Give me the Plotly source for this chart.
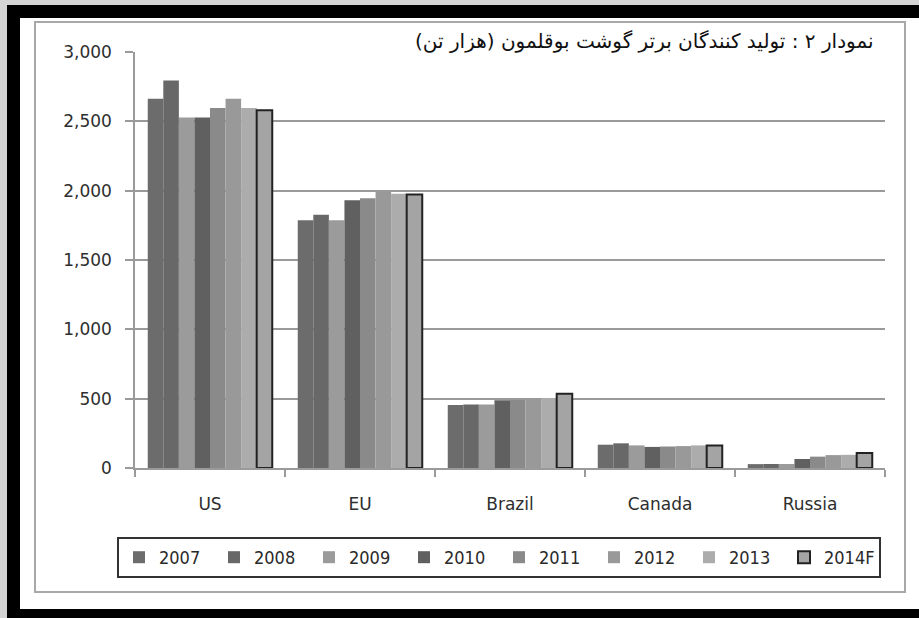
import plotly.graph_objects as go

categories = ["US", "EU", "Brazil", "Canada", "Russia"]
years = ["2007", "2008", "2009", "2010", "2011", "2012", "2013", "2014F"]
v2007 = [2662, 1786, 455, 168, 28]
v2008 = [2795, 1827, 458, 178, 29]
v2009 = [2528, 1786, 458, 163, 29]
v2010 = [2528, 1930, 488, 152, 65]
v2011 = [2597, 1945, 490, 155, 82]
v2012 = [2662, 1990, 495, 158, 93]
v2013 = [2597, 1978, 505, 163, 95]
v2014 = [2580, 1972, 535, 163, 108]
series = [v2007, v2008, v2009, v2010, v2011, v2012, v2013, v2014]
colors = ["#6c6c6c", "#686868", "#9b9b9b", "#606060", "#8a8a8a", "#999999", "#acacac", "#a4a4a4"]
yticks = [0, 500, 1000, 1500, 2000, 2500, 3000]
ytick_text = ["0", "500", "1,000", "1,500", "2,000", "2,500", "3,000"]
title = "نمودار ۲ : تولید کنندگان برتر گوشت بوقلمون (هزار تن)"

W, H = 919, 618
L, R, T, B = 135, 885, 52, 468


def px(x):
    return (x - L) / (R - L)


def py(y):
    return (B - y) / (B - T)


fig = go.Figure()
for name, vals, col in zip(years, series, colors):
    last = name == "2014F"
    fig.add_trace(go.Bar(
        x=categories, y=vals, name=name,
        marker=dict(color=col, line=dict(color="#222222" if last else col, width=2 if last else 0)),
    ))

shapes = []
def rect(x0, y0, x1, y1, fill=None, line=None, lw=0, layer="below"):
    shapes.append(dict(type="rect", xref="paper", yref="paper",
                       x0=px(x0), x1=px(x1), y0=py(y0), y1=py(y1),
                       fillcolor=fill if fill else "rgba(0,0,0,0)",
                       line=dict(color=line if line else "rgba(0,0,0,0)", width=lw),
                       layer=layer))

rect(0, 0, 919, 5, fill="#d4d4d4")
rect(0, 0, 7, 618, fill="#d4d4d4")
rect(7, 5, 919, 18, fill="#000000")
rect(7, 5, 20, 618, fill="#000000")
rect(7, 609, 919, 618, fill="#000000")
rect(35, 22, 905, 592, line="#a8a8a8", lw=2)

fig.update_layout(
    width=W, height=H,
    margin=dict(l=L, r=W - R, t=T, b=H - B, autoexpand=False),
    paper_bgcolor="white", plot_bgcolor="white",
    barmode="group", bargap=0.17, bargroupgap=0,
    shapes=shapes,
    showlegend=True,
    legend=dict(orientation="h", x=px(117), xanchor="left",
                y=py(537), yanchor="top",
                font=dict(family="DejaVu Sans Condensed, DejaVu Sans", size=18, color="#2a2a2a"),
                bordercolor="#333333", borderwidth=2, bgcolor="white",
                entrywidth=50, entrywidthmode="pixels", itemwidth=30,
                traceorder="normal"),
    annotations=[dict(text=title, xref="paper", yref="paper", x=px(876), y=py(41),
                      xanchor="right", yanchor="middle", showarrow=False,
                      font=dict(family="DejaVu Sans", size=20, color="#111111"))],
    xaxis=dict(showline=True, linecolor="#9a9a9a", linewidth=1.5, ticks="outside",
               tickson="boundaries", ticklen=7, tickcolor="#9a9a9a", tickwidth=1.5,
               ticklabelstandoff=20,
               tickfont=dict(family="DejaVu Sans", size=17, color="#2e2e2e"),
               showgrid=False, fixedrange=True),
    yaxis=dict(range=[0, 3000], tickvals=yticks, ticktext=ytick_text,
               showline=True, linecolor="#9a9a9a", linewidth=1.5,
               ticks="outside", ticklen=8, tickcolor="#9a9a9a", tickwidth=1.5,
               ticklabelstandoff=10,
               showgrid=True, gridcolor="#9a9a9a", gridwidth=1.5, zeroline=False,
               tickfont=dict(family="DejaVu Sans", size=17, color="#2e2e2e"),
               fixedrange=True),
)

fig.write_html("out.html", config={"displayModeBar": False},
               post_script="document.body.style.margin='0px';")
